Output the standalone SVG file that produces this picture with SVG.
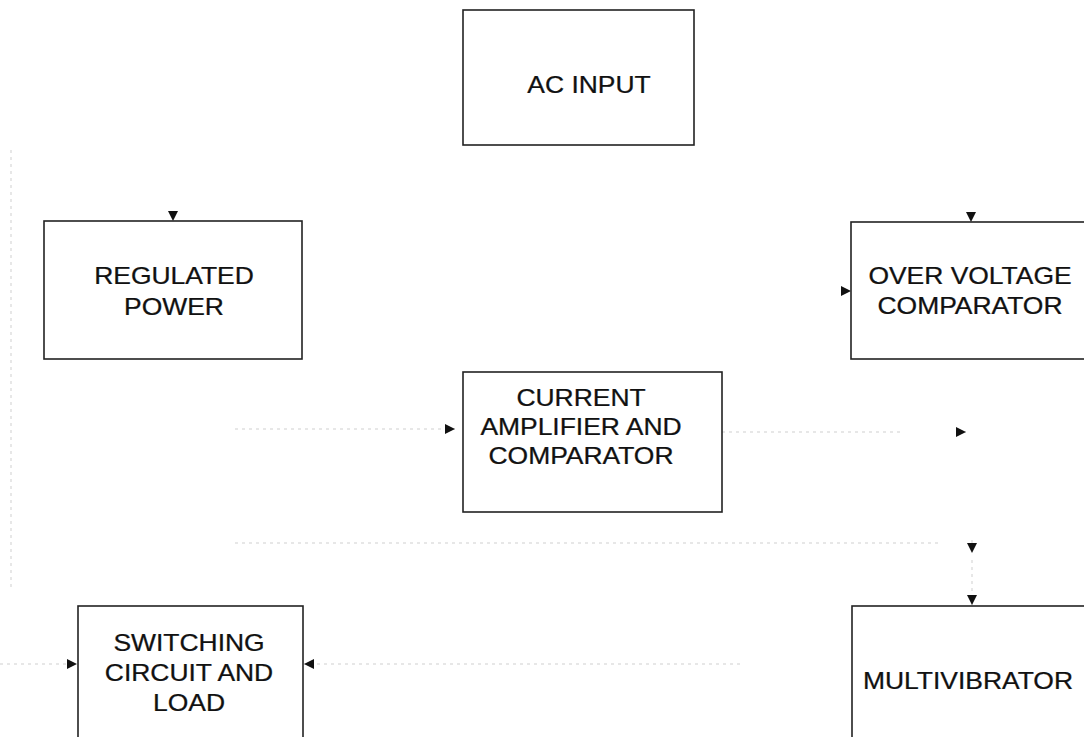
<svg xmlns="http://www.w3.org/2000/svg" width="1084" height="737" viewBox="0 0 1084 737">
<style>
.box{fill:#fff;stroke:#222;stroke-width:1.6}
.lbl{font-family:"Liberation Sans",Arial,sans-serif;font-size:23px;fill:#111;stroke:#111;stroke-width:0.25;text-anchor:middle}
.faint{stroke:#cfcfcf;stroke-width:1;stroke-dasharray:3 4;fill:none}
.tip{stroke:none;fill:none}
</style>
<defs>
<marker id="ah" viewBox="0 0 10 10" refX="10" refY="5" markerWidth="10" markerHeight="10" markerUnits="userSpaceOnUse" orient="auto">
<path d="M0,0 L10,5 L0,10 z" fill="#111"/>
</marker>
</defs>
<rect width="1084" height="737" fill="#fff"/>
<g id="connectors">
<line class="faint" x1="11" y1="150" x2="11" y2="590"/>
<line class="faint" x1="235" y1="429" x2="455" y2="429" marker-end="url(#ah)"/>
<line class="faint" x1="0" y1="664" x2="77" y2="664" marker-end="url(#ah)"/>
<line class="faint" x1="740" y1="664" x2="304" y2="664" marker-end="url(#ah)"/>
<line class="faint" x1="235" y1="543" x2="940" y2="543"/>
<line class="faint" x1="722" y1="432" x2="900" y2="432"/>
<line class="faint" x1="958" y1="432" x2="966" y2="432" marker-end="url(#ah)"/>
<line class="faint" x1="972" y1="540" x2="972" y2="553" marker-end="url(#ah)"/>
<line class="faint" x1="972" y1="560" x2="972" y2="605" marker-end="url(#ah)"/>
<line class="tip" x1="173" y1="210" x2="173" y2="221" marker-end="url(#ah)"/>
<line class="tip" x1="971" y1="210" x2="971" y2="222" marker-end="url(#ah)"/>
<line class="tip" x1="838" y1="291" x2="851" y2="291" marker-end="url(#ah)"/>
</g>
<g id="ac-input">
<rect class="box" x="463" y="10" width="231" height="135"/>
<text class="lbl" transform="translate(589,93) scale(1.15,1)">AC INPUT</text>
</g>
<g id="regulated-power">
<rect class="box" x="44" y="221" width="258" height="138"/>
<text class="lbl" transform="translate(174,284) scale(1.15,1)">REGULATED</text>
<text class="lbl" transform="translate(174,315) scale(1.15,1)">POWER</text>
</g>
<g id="over-voltage-comparator">
<rect class="box" x="851" y="222" width="250" height="137"/>
<text class="lbl" transform="translate(970,284) scale(1.15,1)">OVER VOLTAGE</text>
<text class="lbl" transform="translate(970,314) scale(1.15,1)">COMPARATOR</text>
</g>
<g id="current-amplifier">
<rect class="box" x="463" y="372" width="259" height="140"/>
<text class="lbl" transform="translate(581,406) scale(1.15,1)">CURRENT</text>
<text class="lbl" transform="translate(581,435) scale(1.15,1)">AMPLIFIER AND</text>
<text class="lbl" transform="translate(581,464) scale(1.15,1)">COMPARATOR</text>
</g>
<g id="switching-circuit">
<rect class="box" x="78" y="606" width="225" height="150"/>
<text class="lbl" transform="translate(189,651) scale(1.15,1)">SWITCHING</text>
<text class="lbl" transform="translate(189,681) scale(1.15,1)">CIRCUIT AND</text>
<text class="lbl" transform="translate(189,711) scale(1.15,1)">LOAD</text>
</g>
<g id="multivibrator">
<rect class="box" x="852" y="606" width="250" height="150"/>
<text class="lbl" transform="translate(968,689) scale(1.15,1)">MULTIVIBRATOR</text>
</g>
</svg>
